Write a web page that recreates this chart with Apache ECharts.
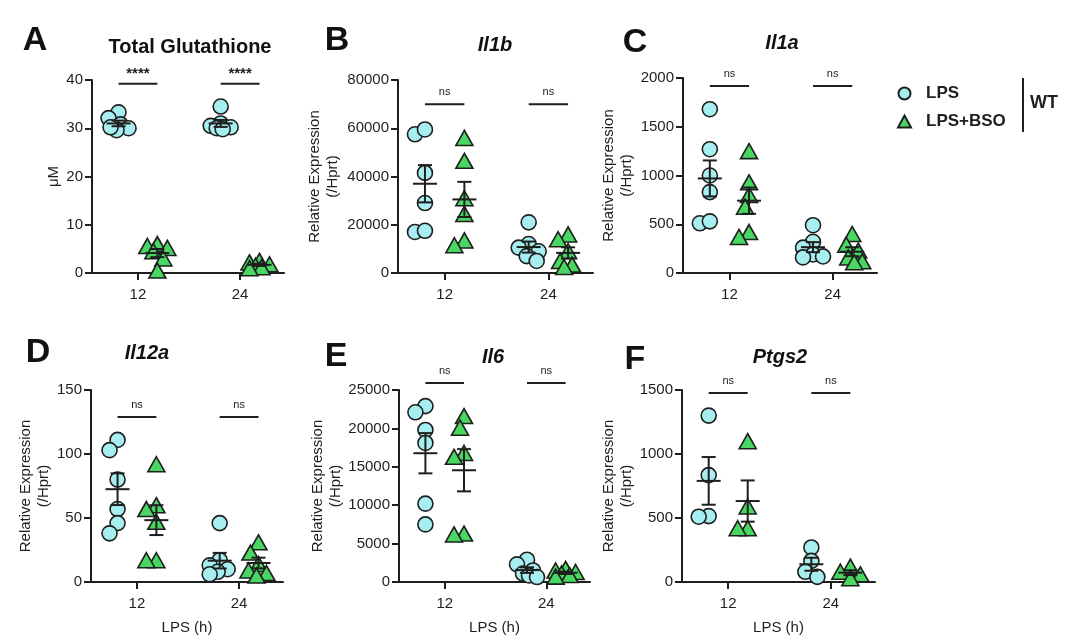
<!DOCTYPE html>
<html>
<head>
<meta charset="utf-8">
<script src="https://cdn.jsdelivr.net/npm/echarts@6/dist/echarts.min.js"></script>
<style>
html, body { margin: 0; padding: 0; background: #fff; }
#chart { width: 1069px; height: 644px; }
</style>
</head>
<body>
<div id="chart"></div>
<script>
// LPS time points (h)
const hours = ['12', '24'];
const groupNames = ['LPS', 'LPS+BSO'];

// A - Total Glutathione (uM), [12h, 24h]
const gshLps = [[33.3, 32.1, 30.8, 30.0, 29.6, 30.2], [34.5, 31.0, 30.5, 30.2, 30.0, 29.8]];
const gshBso = [[6.0, 5.6, 5.2, 4.5, 3.0, 0.5], [2.5, 2.2, 1.8, 1.5, 1.2, 1.0]];
// B - Il1b
const il1bLps = [[57500, 59500, 41500, 29000, 17000, 17500], [21000, 12000, 10500, 9000, 7000, 5000]];
const il1bBso = [[56000, 46500, 31000, 24500, 13500, 11500], [16000, 14000, 9000, 5000, 3500, 2500]];
// C - Il1a
const il1aLps = [[1680, 1270, 1000, 830, 510, 530], [490, 320, 260, 190, 160, 170]];
const il1aBso = [[1250, 930, 800, 680, 420, 370], [400, 290, 230, 160, 120, 110]];
// D - Il12a
const il12aLps = [[111, 103, 80, 57, 46, 38], [46, 17, 13, 10, 8, 6]];
const il12aBso = [[92, 60, 57, 47, 17, 17], [31, 23, 14, 9, 7, 5]];
// E - Il6
const il6Lps = [[22900, 22100, 19800, 18100, 10200, 7500], [2900, 2300, 1500, 1100, 850, 650]];
const il6Bso = [[21600, 20100, 16800, 16300, 6300, 6200], [1700, 1500, 1300, 1100, 900, 700]];
// F - Ptgs2
const ptgs2Lps = [[1300, 835, 515, 510], [270, 165, 80, 40]];
const ptgs2Bso = [[1100, 590, 420, 420], [120, 80, 60, 30]];

const fontFam = '"Liberation Sans", Arial, Helvetica, sans-serif';
const ink = '#1e1e1e';
const cyan = '#a6eef0';
const green = '#48d862';
const xMin = -0.45, xMax = 1.43, shift = 0.19;

const panels = [
  {letter: 'A', title: 'Total Glutathione', italic: false, lps: gshLps, bso: gshBso, max: 40, interval: 10, sig: '****', sigY: 39.2, yName: 'μM'},
  {letter: 'B', title: 'Il1b', italic: true, lps: il1bLps, bso: il1bBso, max: 80000, interval: 20000, sig: 'ns', sigY: 70000, yName: 'Relative Expression\n(/Hprt)'},
  {letter: 'C', title: 'Il1a', italic: true, lps: il1aLps, bso: il1aBso, max: 2000, interval: 500, sig: 'ns', sigY: 1918, yName: 'Relative Expression\n(/Hprt)'},
  {letter: 'D', title: 'Il12a', italic: true, lps: il12aLps, bso: il12aBso, max: 150, interval: 50, sig: 'ns', sigY: 129, yName: 'Relative Expression\n(/Hprt)'},
  {letter: 'E', title: 'Il6', italic: true, lps: il6Lps, bso: il6Bso, max: 25000, interval: 5000, sig: 'ns', sigY: 25900, yName: 'Relative Expression\n(/Hprt)'},
  {letter: 'F', title: 'Ptgs2', italic: true, lps: ptgs2Lps, bso: ptgs2Bso, max: 1500, interval: 500, sig: 'ns', sigY: 1477, yName: 'Relative Expression\n(/Hprt)'}
];

// panel frames in pixels
const frames = [
  {left: 92, top: 80, width: 192, height: 193, nameGap: 28, letterPos: [35, 41], titlePos: [190, 47]},
  {left: 398, top: 80, width: 195, height: 193, nameGap: 56, letterPos: [337, 41], titlePos: [495, 45]},
  {left: 683, top: 78, width: 194, height: 195, nameGap: 47, letterPos: [635, 43], titlePos: [782, 43]},
  {left: 91, top: 390, width: 192, height: 192, nameGap: 37, letterPos: [38, 353], titlePos: [147, 353]},
  {left: 399, top: 390, width: 191, height: 192, nameGap: 54, letterPos: [336, 357], titlePos: [493, 357]},
  {left: 682, top: 390, width: 193, height: 192, nameGap: 46, letterPos: [635, 360], titlePos: [780, 357]}
];

let mean = arr => arr.reduce((a, b) => a + b, 0) / arr.length;
let sem = arr => {
  const m = mean(arr);
  const v = arr.reduce((a, b) => a + (b - m) * (b - m), 0) / (arr.length - 1);
  return Math.sqrt(v / arr.length);
};

// compact beeswarm: spread markers sideways a little, overlap allowed
let swarm = (vals, center, pxX, pxY) => {
  const placed = [];
  const out = new Array(vals.length);
  const order = vals.map((v, i) => i).sort((a, b) => vals[b] - vals[a]);
  const minDist = 12, maxOff = 11;
  const cands = [0];
  for (let d = 2; d <= maxOff; d += 2) cands.push(-d, d);
  order.forEach(i => {
    const y = vals[i] * pxY;
    let best = 0, bestD = -1;
    for (const c of cands) {
      const dmin = placed.length ? Math.min(...placed.map(p => Math.hypot(p[0] - c, p[1] - y))) : Infinity;
      if (dmin >= minDist) { best = c; bestD = dmin; break; }
      if (dmin > bestD + 0.5) { best = c; bestD = dmin; }
    }
    placed.push([best, y]);
    out[i] = [center + best / pxX, vals[i]];
  });
  return out;
};

let errorBarItem = (params, api) => {
  const x = api.value(0), m = api.value(1), s = api.value(2);
  const pm = api.coord([x, m]);
  const pt = api.coord([x, m + s]);
  const pb = api.coord([x, m - s]);
  const st = {stroke: ink, lineWidth: 2};
  return {
    type: 'group',
    children: [
      {type: 'line', shape: {x1: pm[0] - 12, y1: pm[1], x2: pm[0] + 12, y2: pm[1]}, style: st},
      {type: 'line', shape: {x1: pt[0], y1: pt[1], x2: pb[0], y2: pb[1]}, style: st},
      {type: 'line', shape: {x1: pt[0] - 7, y1: pt[1], x2: pt[0] + 7, y2: pt[1]}, style: st},
      {type: 'line', shape: {x1: pb[0] - 7, y1: pb[1], x2: pb[0] + 7, y2: pb[1]}, style: st}
    ]
  };
};

let grid = [], xAxis = [], yAxis = [], series = [], graphic = [];

panels.forEach((p, i) => {
  const f = frames[i];
  grid.push({left: f.left, top: f.top, width: f.width, height: f.height});
  xAxis.push({
    type: 'value', gridIndex: i, min: xMin, max: xMax,
    splitLine: {show: false},
    axisLine: {onZero: false, lineStyle: {color: ink, width: 2}},
    axisTick: {customValues: [0, 1], length: 7, lineStyle: {color: ink, width: 2}},
    axisLabel: {customValues: [0, 1], formatter: v => hours[Math.round(v)], margin: 14, fontSize: 15, color: ink, fontFamily: fontFam},
    name: i >= 3 ? 'LPS (h)' : '', nameLocation: 'middle', nameGap: 38,
    nameTextStyle: {fontSize: 15, color: ink, fontFamily: fontFam}
  });
  yAxis.push({
    type: 'value', gridIndex: i, min: 0, max: p.max, interval: p.interval,
    splitLine: {show: false},
    axisLine: {show: true, onZero: false, lineStyle: {color: ink, width: 2}},
    axisTick: {show: true, length: 7, lineStyle: {color: ink, width: 2}},
    axisLabel: {formatter: v => String(v), margin: 9, fontSize: 15, color: ink, fontFamily: fontFam},
    name: p.yName, nameLocation: 'middle', nameRotate: 90, nameGap: f.nameGap,
    nameTextStyle: {fontSize: 15, color: ink, fontFamily: fontFam, lineHeight: 18}
  });

  const pxX = f.width / (xMax - xMin), pxY = f.height / p.max;
  const lpsPts = [], bsoPts = [], bars = [];
  hours.forEach((h, g) => {
    lpsPts.push(...swarm(p.lps[g], g - shift, pxX, pxY));
    bsoPts.push(...swarm(p.bso[g], g + shift, pxX, pxY));
    bars.push([g - shift, mean(p.lps[g]), sem(p.lps[g])]);
    bars.push([g + shift, mean(p.bso[g]), sem(p.bso[g])]);
  });

  series.push({
    type: 'scatter', name: groupNames[0], xAxisIndex: i, yAxisIndex: i,
    symbol: 'circle', symbolSize: 15, z: 2, silent: true,
    itemStyle: {color: cyan, borderColor: ink, borderWidth: 1.6, opacity: 1},
    data: lpsPts
  });
  series.push({
    type: 'scatter', name: groupNames[1], xAxisIndex: i, yAxisIndex: i,
    symbol: 'triangle', symbolSize: [17, 15], z: 2, silent: true,
    itemStyle: {color: green, borderColor: ink, borderWidth: 1.6, opacity: 1},
    data: bsoPts
  });
  series.push({
    type: 'custom', xAxisIndex: i, yAxisIndex: i, z: 3, silent: true,
    renderItem: errorBarItem, data: bars
  });
  // significance bars
  series.push({
    type: 'custom', xAxisIndex: i, yAxisIndex: i, z: 3, silent: true, clip: false,
    renderItem: (params, api) => {
      const g = api.value(0);
      const a = api.coord([g - shift, p.sigY]);
      const b = api.coord([g + shift, p.sigY]);
      const bold = p.sig !== 'ns';
      return {
        type: 'group',
        children: [
          {type: 'line', shape: {x1: a[0], y1: a[1], x2: b[0], y2: b[1]}, style: {stroke: ink, lineWidth: 2}},
          {type: 'text', x: (a[0] + b[0]) / 2, y: a[1] - (bold ? 10 : 12),
            style: {text: p.sig, textAlign: 'center', textVerticalAlign: 'middle', fill: ink,
              font: (bold ? 'bold 15px ' : '11px ') + fontFam}}
        ]
      };
    },
    data: [[0], [1]]
  });

  graphic.push({type: 'text', x: f.letterPos[0], y: f.letterPos[1],
    style: {text: p.letter, textAlign: 'center', textVerticalAlign: 'middle', fill: '#111', font: 'bold 34px ' + fontFam}});
  graphic.push({type: 'text', x: f.titlePos[0], y: f.titlePos[1],
    style: {text: p.title, textAlign: 'center', textVerticalAlign: 'middle', fill: '#111',
      font: (p.italic ? 'italic ' : '') + 'bold 20px ' + fontFam}});
});

// WT bracket next to legend
graphic.push({type: 'line', shape: {x1: 1023, y1: 78, x2: 1023, y2: 132}, style: {stroke: ink, lineWidth: 2}});
graphic.push({type: 'text', x: 1030, y: 103,
  style: {text: 'WT', textAlign: 'left', textVerticalAlign: 'middle', fill: ink, font: 'bold 18px ' + fontFam}});

const chart = echarts.init(document.getElementById('chart'));
chart.setOption({
  animation: false,
  backgroundColor: '#fff',
  grid, xAxis, yAxis, series, graphic,
  legend: {
    left: 892, top: 80, orient: 'vertical', itemWidth: 13, itemHeight: 12, itemGap: 11,
    selectedMode: false, data: groupNames,
    textStyle: {fontSize: 17, fontWeight: 'bold', color: ink, fontFamily: fontFam, padding: [0, 0, 0, 10]}
  }
});
</script>
</body>
</html>
